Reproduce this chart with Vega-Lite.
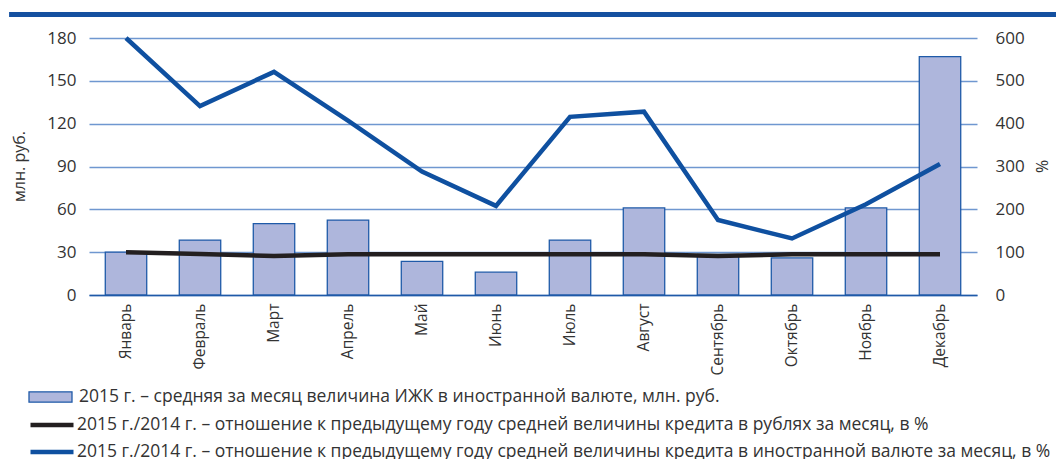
{
  "$schema": "https://vega.github.io/schema/vega-lite/v6.json",
  "autosize": {"type": "none"},
  "padding": {"left": 89, "top": 38, "right": 79, "bottom": 164},
  "width": 888,
  "height": 257,
  "background": "white",
  "config": {
    "font": "Open Sans",
    "view": {"stroke": null},
    "axis": {"labelFont": "Open Sans", "titleFont": "Open Sans", "labelColor": "#333333", "titleColor": "#333333", "titleFontWeight": "normal"}
  },
  "data": {
    "values": [
      {"month": "Январь", "bar": 30, "rub": 100, "fx": 600},
      {"month": "Февраль", "bar": 38.5, "rub": 96, "fx": 441},
      {"month": "Март", "bar": 50, "rub": 91, "fx": 521},
      {"month": "Апрель", "bar": 52.5, "rub": 95, "fx": 407},
      {"month": "Май", "bar": 23.5, "rub": 95, "fx": 288},
      {"month": "Июнь", "bar": 16, "rub": 95, "fx": 208},
      {"month": "Июль", "bar": 38.5, "rub": 95, "fx": 416},
      {"month": "Август", "bar": 61, "rub": 95, "fx": 428},
      {"month": "Сентябрь", "bar": 28.5, "rub": 91, "fx": 175},
      {"month": "Октябрь", "bar": 26, "rub": 95, "fx": 132},
      {"month": "Ноябрь", "bar": 61, "rub": 95, "fx": 212},
      {"month": "Декабрь", "bar": 167, "rub": 95, "fx": 306}
    ]
  },
  "resolve": {"scale": {"y": "independent", "x": "independent"}},
  "layer": [
    {
      "mark": {"type": "bar", "stroke": "#1f5aa8", "strokeWidth": 1.3},
      "encoding": {
        "x": {
          "field": "month", "type": "nominal", "sort": null,
          "scale": {"paddingInner": 0.44, "paddingOuter": 0.22},
          "axis": {
            "title": null, "labelAngle": -90, "labelFontSize": 15.5, "labelPadding": 8,
            "ticks": false, "domainColor": "#1f5aa8", "domainWidth": 1.5, "grid": false
          }
        },
        "y": {
          "field": "bar", "type": "quantitative",
          "scale": {"domain": [0, 180], "nice": false},
          "axis": {
            "title": "млн. руб.", "values": [0, 30, 60, 90, 120, 150, 180],
            "labelFontSize": 17, "labelPadding": 13, "ticks": false, "domain": false,
            "grid": true, "gridColor": "#6f97d0", "gridWidth": 1.5,
            "titleFontSize": 16, "titleX": -62, "titleY": 128, "titleAngle": -90
          }
        },
        "fill": {
          "datum": "2015 г. – средняя за месяц величина ИЖК в иностранной валюте, млн. руб.",
          "type": "nominal",
          "scale": {"range": ["#aeb6dc"]},
          "legend": {
            "title": null, "orient": "none", "legendX": -61, "legendY": 347,
            "symbolType": "M-1,-0.24H1V0.24H-1Z", "symbolSize": 1849,
            "symbolStrokeColor": "#1f5aa8", "symbolStrokeWidth": 1.3,
            "labelFont": "Open Sans", "labelFontSize": 17.5, "labelColor": "#333333",
            "labelLimit": 1100, "labelOffset": 6, "clipHeight": 24, "padding": 0
          }
        }
      }
    },
    {
      "transform": [{"fold": ["rub", "fx"], "as": ["series", "val"]}],
      "mark": {"type": "line", "strokeWidth": 4.5},
      "encoding": {
        "x": {"field": "month", "type": "nominal", "sort": null,
              "scale": {"paddingInner": 0.44, "paddingOuter": 0.22}, "axis": null},
        "y": {
          "field": "val", "type": "quantitative",
          "scale": {"domain": [0, 600], "nice": false},
          "axis": {
            "orient": "right", "title": "%", "values": [0, 100, 200, 300, 400, 500, 600],
            "labelFontSize": 17, "labelPadding": 18, "ticks": false, "domain": false, "grid": false,
            "titleFontSize": 16, "titleX": 73, "titleY": 128, "titleAngle": -90
          }
        },
        "detail": {"field": "series"},
        "stroke": {
          "field": "series", "type": "nominal",
          "scale": {"domain": ["rub", "fx"], "range": ["#231f20", "#0f50a0"]},
          "legend": {
            "title": null, "orient": "none", "legendX": -61, "legendY": 375,
            "symbolType": "stroke", "symbolSize": 1849, "symbolStrokeWidth": 4.5,
            "labelExpr": "datum.value == 'rub' ? '2015 г./2014 г. – отношение к предыдущему году средней величины кредита в рублях за месяц, в %' : '2015 г./2014 г. – отношение к предыдущему году средней величины кредита в иностранной валюте за месяц, в %'",
            "labelFont": "Open Sans", "labelFontSize": 17.5, "labelColor": "#333333",
            "labelLimit": 1100, "labelOffset": 1, "clipHeight": 24, "rowPadding": 3, "padding": 0
          }
        }
      }
    },
    {
      "data": {"values": [{"x0": -0.09, "x1": 1.1, "y": 196.5}]},
      "mark": {"type": "rule", "color": "#1450a0", "strokeWidth": 5, "clip": false},
      "encoding": {
        "x": {"field": "x0", "type": "quantitative", "scale": {"domain": [0, 1], "nice": false, "zero": false}, "axis": null},
        "x2": {"field": "x1"},
        "y": {"field": "y", "type": "quantitative", "scale": {"domain": [0, 180], "nice": false}, "axis": null}
      }
    }
  ]
}
